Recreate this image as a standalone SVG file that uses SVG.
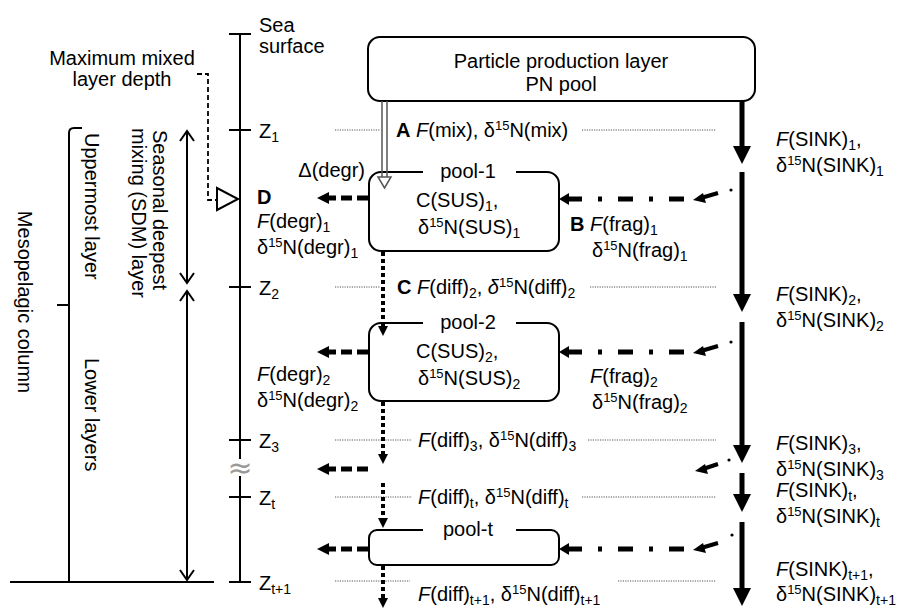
<svg xmlns="http://www.w3.org/2000/svg" width="906" height="608" viewBox="0 0 906 608">
<style>
.t{font-family:"Liberation Sans",Arial,Helvetica,sans-serif;font-size:20px;fill:#000}
.b{font-weight:bold}
.i{font-style:italic}
.sb{font-size:14px;baseline-shift:-4px}
.sp{font-size:13px;baseline-shift:7px}
.ln{stroke:#000;stroke-width:2;fill:none}
.box{fill:#fff;stroke:#000;stroke-width:2}
.dot{stroke:#555;stroke-width:1;stroke-dasharray:1.2 1.2;fill:none}
.sink{stroke:#000;stroke-width:5;fill:none}
.dg{stroke:#000;stroke-width:5;stroke-dasharray:11 5;fill:none}
.dd{stroke:#000;stroke-width:5;stroke-dasharray:15 16 4 16;fill:none}
.df{stroke:#000;stroke-width:4;stroke-dasharray:4 3;fill:none}
.sa{stroke:#000;stroke-width:4;fill:none}
</style>

<g id="axis">
  <line class="ln" x1="240" y1="34" x2="240" y2="582"/>
  <rect x="228" y="459" width="24" height="17" fill="#fff"/>
  <text x="240" y="478" text-anchor="middle" font-family="'DejaVu Sans',sans-serif" font-size="30" fill="#999">≈</text>
  <path class="ln" d="M229,34H251M229,130H251M229,287H251M229,440H251M229,497H251M229,582H251"/>
  <text class="t" x="259" y="32">Sea</text>
  <text class="t" x="259" y="53">surface</text>
  <text class="t" x="259" y="138">Z<tspan class="sb">1</tspan></text>
  <text class="t" x="259" y="295">Z<tspan class="sb">2</tspan></text>
  <text class="t" x="259" y="448">Z<tspan class="sb">3</tspan></text>
  <text class="t" x="259" y="505">Z<tspan class="sb">t</tspan></text>
  <text class="t" x="259" y="590">Z<tspan class="sb">t+1</tspan></text>
</g>

<g id="mld">
  <text class="t" x="122" y="65" text-anchor="middle">Maximum mixed</text>
  <text class="t" x="122" y="86" text-anchor="middle">layer depth</text>
  <path d="M197,74H208V200H217" fill="none" stroke="#000" stroke-width="1.8" stroke-dasharray="5 3"/>
  <polygon points="217,188 217,210 238,199" fill="#fff" stroke="#000" stroke-width="2"/>
</g>

<g id="column">
  <path class="ln" d="M82,128H74Q69,128 69,133V582"/>
  <path class="ln" d="M57,305H69"/>
  <line class="ln" x1="10" y1="582" x2="214" y2="582"/>
  <text class="t" transform="translate(18,302) rotate(90)" text-anchor="middle">Mesopelagic column</text>
  <text class="t" transform="translate(85,133) rotate(90)">Uppermost layer</text>
  <text class="t" transform="translate(85,358) rotate(90)">Lower layers</text>
  <text class="t" transform="translate(153,130) rotate(90)">Seasonal deepest</text>
  <text class="t" transform="translate(132,128) rotate(90)">mixing (SDM) layer</text>
  <path class="ln" d="M187,131V283M180,141L187,131L194,141M180,273L187,283L194,273"/>
  <path class="ln" d="M187,291V580M180,301L187,291L194,301M180,570L187,580L194,570"/>
</g>

<g id="production">
  <rect class="box" x="368" y="37" width="387" height="64" rx="12"/>
  <text class="t" x="561" y="68" text-anchor="middle">Particle production layer</text>
  <text class="t" x="561" y="91" text-anchor="middle">PN pool</text>
</g>

<g id="pool-1">
  <rect class="box" x="369" y="172" width="190" height="79" rx="12"/>
  <rect x="423" y="168" width="93" height="8" fill="#fff"/>
  <text class="t" x="468" y="178" text-anchor="middle">pool-1</text>
  <text class="t" x="416" y="207">C(SUS)<tspan class="sb">1</tspan>,</text>
  <text class="t" x="418" y="234">δ<tspan class="sp">15</tspan>N(SUS)<tspan class="sb">1</tspan></text>
</g>

<g id="pool-2">
  <rect class="box" x="369" y="323" width="190" height="78" rx="12"/>
  <rect x="423" y="319" width="93" height="8" fill="#fff"/>
  <text class="t" x="468" y="329" text-anchor="middle">pool-2</text>
  <text class="t" x="416" y="358">C(SUS)<tspan class="sb">2</tspan>,</text>
  <text class="t" x="418" y="385">δ<tspan class="sp">15</tspan>N(SUS)<tspan class="sb">2</tspan></text>
</g>

<g id="pool-t">
  <rect class="box" x="369" y="530" width="190" height="35" rx="8"/>
  <rect x="423" y="526" width="93" height="8" fill="#fff"/>
  <text class="t" x="468" y="536" text-anchor="middle">pool-t</text>
</g>

<g id="connectors">
  <path class="dot" d="M335,130H380M582,130H716"/>
  <path class="dot" d="M335,287H380M590,287H716"/>
  <path class="dot" d="M335,440H412M588,440H716"/>
  <path class="dot" d="M335,497H412M582,497H716"/>
  <path class="dot" d="M335,581H410M618,581H716"/>

  <path d="M382,101V178M387,101V178" stroke="#555" stroke-width="1.5" fill="none"/>
  <polygon points="378,177 391,177 384.5,188" fill="#fff" stroke="#555" stroke-width="1.5"/>

  <path class="sink" d="M742,101V147M742,172V295M742,322V446M742,473V495M742,522V589"/>
  <polygon points="733,146 751,146 742,164"/>
  <polygon points="733,294 751,294 742,312"/>
  <polygon points="733,445 751,445 742,463"/>
  <polygon points="733,494 751,494 742,512"/>
  <polygon points="733,588 751,588 742,606"/>

  <path class="df" d="M383,252V327M383,402V455M383,483V519M383,566V599"/>
  <polygon points="378,326 388,326 383,336"/>
  <polygon points="378,454 388,454 383,464"/>
  <polygon points="378,518 388,518 383,528"/>
  <polygon points="378,598 388,598 383,608"/>

  <path class="dg" d="M368,198H328M368,352H328M368,469H328M368,549H328"/>
  <polygon points="317,198 329,192 329,204"/>
  <polygon points="317,352 329,346 329,358"/>
  <polygon points="317,469 329,463 329,475"/>
  <polygon points="317,549 329,543 329,555"/>

  <path class="dd" d="M567,199H684M567,352H684M567,549H684"/>
  <polygon points="559,199 569,193 569,205"/>
  <polygon points="559,352 569,346 569,358"/>
  <polygon points="559,549 569,543 569,555"/>
  <path class="sa" d="M718,193L701,198M718,346L701,351M718,464L703,469M718,543L701,548"/>
  <polygon points="693,200 703,193 706,203"/>
  <polygon points="693,353 703,346 706,356"/>
  <polygon points="695,471 705,464 708,474"/>
  <polygon points="693,550 703,543 706,553"/>
  <circle cx="731" cy="190" r="1.6"/>
  <circle cx="731" cy="342" r="1.6"/>
  <circle cx="729" cy="460" r="1.6"/>
  <circle cx="732" cy="535" r="1.6"/>
</g>

<g id="labels">
  <text class="t" x="396" y="137"><tspan class="b">A</tspan> <tspan class="i">F</tspan>(mix), δ<tspan class="sp">15</tspan>N(mix)</text>
  <text class="t" x="365" y="177" text-anchor="end">Δ(degr)</text>
  <text class="t b" x="257" y="204">D</text>
  <text class="t" x="257" y="228"><tspan class="i">F</tspan>(degr)<tspan class="sb">1</tspan></text>
  <text class="t" x="257" y="254">δ<tspan class="sp">15</tspan>N(degr)<tspan class="sb">1</tspan></text>
  <text class="t" x="257" y="381"><tspan class="i">F</tspan>(degr)<tspan class="sb">2</tspan></text>
  <text class="t" x="257" y="407">δ<tspan class="sp">15</tspan>N(degr)<tspan class="sb">2</tspan></text>
  <text class="t" x="570" y="231"><tspan class="b">B</tspan> <tspan class="i">F</tspan>(frag)<tspan class="sb">1</tspan></text>
  <text class="t" x="592" y="257">δ<tspan class="sp">15</tspan>N(frag)<tspan class="sb">1</tspan></text>
  <text class="t" x="590" y="383"><tspan class="i">F</tspan>(frag)<tspan class="sb">2</tspan></text>
  <text class="t" x="592" y="409">δ<tspan class="sp">15</tspan>N(frag)<tspan class="sb">2</tspan></text>
  <text class="t" x="397" y="294"><tspan class="b">C</tspan> <tspan class="i">F</tspan>(diff)<tspan class="sb">2</tspan>, <tspan class="i">δ</tspan><tspan class="sp">15</tspan>N(diff)<tspan class="sb">2</tspan></text>
  <text class="t" x="418" y="447"><tspan class="i">F</tspan>(diff)<tspan class="sb">3</tspan>, δ<tspan class="sp">15</tspan>N(diff)<tspan class="sb">3</tspan></text>
  <text class="t" x="418" y="504"><tspan class="i">F</tspan>(diff)<tspan class="sb">t</tspan>, δ<tspan class="sp">15</tspan>N(diff)<tspan class="sb">t</tspan></text>
  <text class="t" x="418" y="601"><tspan class="i">F</tspan>(diff)<tspan class="sb">t+1</tspan>, δ<tspan class="sp">15</tspan>N(diff)<tspan class="sb">t+1</tspan></text>
  <text class="t" x="776" y="146"><tspan class="i">F</tspan>(SINK)<tspan class="sb">1</tspan>,</text>
  <text class="t" x="776" y="172">δ<tspan class="sp">15</tspan>N(SINK)<tspan class="sb">1</tspan></text>
  <text class="t" x="776" y="301"><tspan class="i">F</tspan>(SINK)<tspan class="sb">2</tspan>,</text>
  <text class="t" x="776" y="327">δ<tspan class="sp">15</tspan>N(SINK)<tspan class="sb">2</tspan></text>
  <text class="t" x="776" y="450"><tspan class="i">F</tspan>(SINK)<tspan class="sb">3</tspan>,</text>
  <text class="t" x="776" y="476">δ<tspan class="sp">15</tspan>N(SINK)<tspan class="sb">3</tspan></text>
  <text class="t" x="776" y="497"><tspan class="i">F</tspan>(SINK)<tspan class="sb">t</tspan>,</text>
  <text class="t" x="776" y="523">δ<tspan class="sp">15</tspan>N(SINK)<tspan class="sb">t</tspan></text>
  <text class="t" x="776" y="576"><tspan class="i">F</tspan>(SINK)<tspan class="sb">t+1</tspan>,</text>
  <text class="t" x="776" y="601">δ<tspan class="sp">15</tspan>N(SINK)<tspan class="sb">t+1</tspan></text>
</g>
</svg>
